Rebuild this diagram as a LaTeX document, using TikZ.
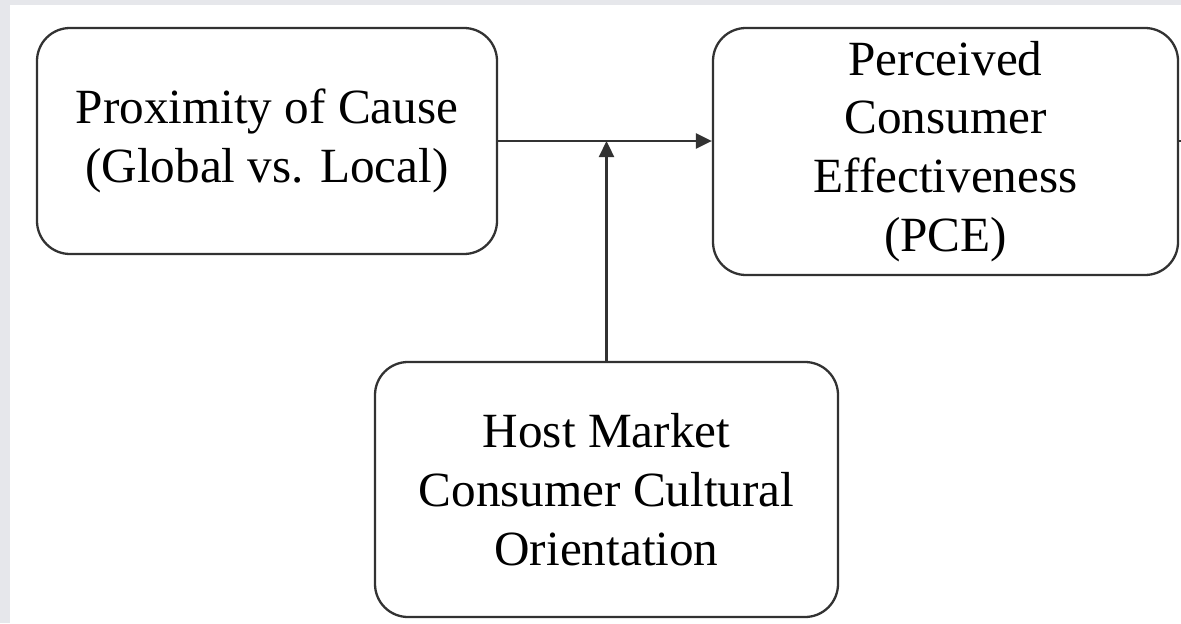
\documentclass[tikz,border=0pt]{standalone}
\usepackage{fontspec}
\setmainfont{Liberation Serif}
\definecolor{framegray}{RGB}{230,231,235}
\definecolor{boxline}{RGB}{50,50,50}
\usetikzlibrary{arrows.meta}

\begin{document}
\begin{tikzpicture}[
  construct/.style={draw=boxline, line width=1.3pt, rounded corners=0.66cm,
    align=center, inner sep=0pt, font=\fontsize{28}{33.5}\selectfont},
  link/.style={-{Triangle[length=0.32cm, width=0.3cm]}, line width=1.3pt, boxline},
]
% Page and frame
\fill[framegray] (0,0) rectangle (23.62,12.46);
\fill[white] (0.2,0) rectangle (23.62,12.36);
\useasboundingbox (0,0) rectangle (23.62,12.46);

% Independent variable
\node[construct, minimum width=9.2cm, minimum height=4.52cm] (cause) at (5.34,9.64)
  {Proximity of Cause\\(Global vs. Local)};

% Dependent variable
\node[construct, minimum width=9.3cm, minimum height=4.94cm] (pce) at (18.91,9.43)
  {Perceived\\Consumer\\Effectiveness\\(PCE)};

% Moderator
\node[construct, minimum width=9.26cm, minimum height=5.1cm] (host) at (12.13,2.67)
  {Host Market\\Consumer Cultural\\Orientation};

% Arrows
\coordinate (join) at (host.north |- cause.east);
\draw[link] (cause.east) -- (cause.east -| pce.west);
\draw[link] (host.north) -- (join);
\draw[line width=0.8pt, boxline] (cause.east -| pce.east) -- ++(0.08,0);
\end{tikzpicture}
\end{document}
